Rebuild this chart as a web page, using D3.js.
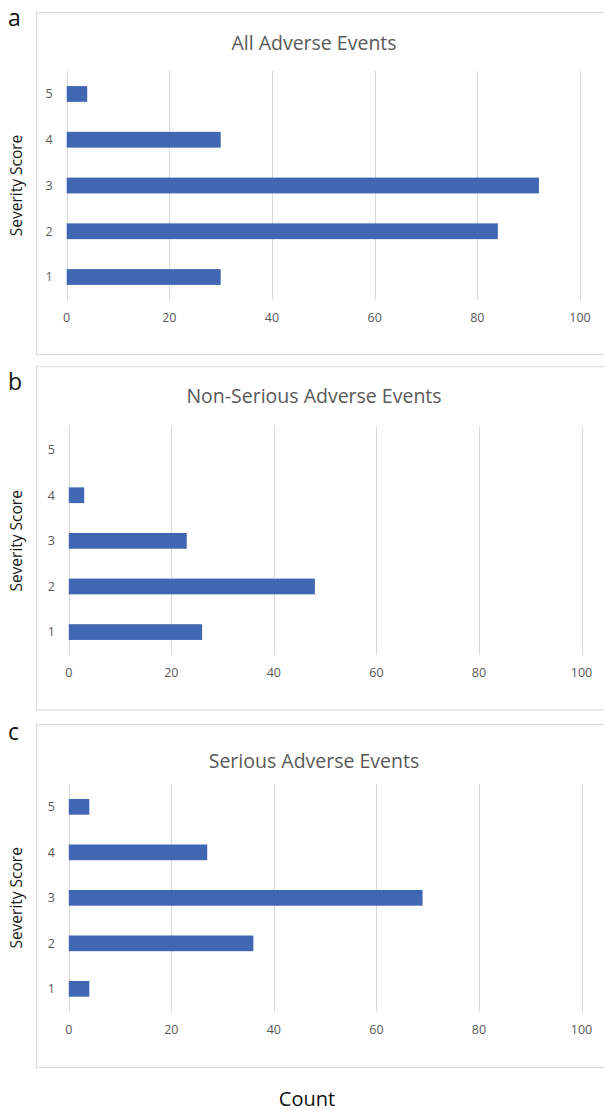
<!DOCTYPE html>
<html>
<head>
<meta charset="utf-8">
<script src="https://cdnjs.cloudflare.com/ajax/libs/d3/7.8.5/d3.min.js"></script>
<style>
    body { margin: 0; background: #fff; }
    text { font-family: "Open Sans", "Noto Sans", sans-serif; }
</style>
</head>
<body>
<div id="chart"></div>
<script>
const severity = ['1', '2', '3', '4', '5'];
const allCounts = [30, 84, 92, 30, 4];
const nonSeriousCounts = [26, 48, 23, 3, 0];
const seriousCounts = [4, 36, 69, 27, 4];
const countTicks = [0, 20, 40, 60, 80, 100];
const panelTitles = ['All Adverse Events', 'Non-Serious Adverse Events', 'Serious Adverse Events'];
const panelLetters = ['a', 'b', 'c'];

const panels = [
    { values: allCounts, frameTop: 12.5, frameBottom: 354.5, x0: 66.7, x1: 580, top: 71, bottom: 300, titleY: 49.5, tickY: 322, letterY: 26 },
    { values: nonSeriousCounts, frameTop: 366.7, frameBottom: 710, x0: 68.8, x1: 581.5, top: 426.7, bottom: 655, titleY: 403, tickY: 677, letterY: 390 },
    { values: seriousCounts, frameTop: 724.5, frameBottom: 1067.7, x0: 68.8, x1: 581.5, top: 784, bottom: 1011.7, titleY: 767.5, tickY: 1034, letterY: 740 }
];

const svg = d3.select('#chart')
    .append('svg')
    .attr('width', 604)
    .attr('height', 1110);

panels.forEach((p, i) => {
    const g = svg.append('g');

    g.append('rect')
        .attr('x', 36.5)
        .attr('y', p.frameTop)
        .attr('width', 600)
        .attr('height', p.frameBottom - p.frameTop)
        .attr('fill', 'none')
        .attr('stroke', '#d9d9d9')
        .attr('stroke-width', 1);

    g.append('text')
        .attr('x', 8)
        .attr('y', p.letterY)
        .attr('font-size', 23)
        .attr('fill', '#111')
        .text(panelLetters[i]);

    g.append('text')
        .attr('x', 314)
        .attr('y', p.titleY)
        .attr('text-anchor', 'middle')
        .attr('font-size', 19.5)
        .attr('fill', '#595959')
        .text(panelTitles[i]);

    const xScale = d3.scaleLinear()
        .domain([0, 100])
        .range([p.x0, p.x1]);

    const yScale = d3.scaleBand()
        .domain(severity.slice().reverse())
        .range([p.top, p.bottom])
        .paddingInner(0.655)
        .paddingOuter(0.33);

    // vertical grid lines
    g.selectAll('line.grid')
        .data(countTicks)
        .enter().append('line')
        .attr('class', 'grid')
        .attr('x1', d => Math.round(xScale(d)) + 0.5)
        .attr('x2', d => Math.round(xScale(d)) + 0.5)
        .attr('y1', p.top)
        .attr('y2', p.bottom)
        .attr('stroke', '#d9d9d9')
        .attr('stroke-width', 1);

    g.selectAll('text.xtick')
        .data(countTicks)
        .enter().append('text')
        .attr('class', 'xtick')
        .attr('x', d => xScale(d))
        .attr('y', p.tickY)
        .attr('text-anchor', 'middle')
        .attr('font-size', 12.5)
        .attr('fill', '#595959')
        .text(d => d);

    g.selectAll('text.ytick')
        .data(severity)
        .enter().append('text')
        .attr('class', 'ytick')
        .attr('x', p.x0 - 14)
        .attr('y', d => yScale(d) + yScale.bandwidth() / 2)
        .attr('dy', '0.35em')
        .attr('text-anchor', 'end')
        .attr('font-size', 12.5)
        .attr('fill', '#595959')
        .text(d => d);

    g.selectAll('rect.bar')
        .data(p.values.map((v, k) => ({ sev: severity[k], count: v })))
        .enter().append('rect')
        .attr('class', 'bar')
        .attr('x', xScale(0))
        .attr('y', d => yScale(d.sev))
        .attr('width', d => xScale(d.count) - xScale(0))
        .attr('height', yScale.bandwidth())
        .style('fill', '#4068b2');

    g.append('text')
        .attr('transform', `translate(22,${(p.top + p.bottom) / 2}) rotate(-90)`)
        .attr('text-anchor', 'middle')
        .attr('font-size', 15.5)
        .attr('fill', '#1a1a1a')
        .text('Severity Score');
});

svg.append('text')
    .attr('x', 307)
    .attr('y', 1105.5)
    .attr('text-anchor', 'middle')
    .attr('font-size', 20)
    .attr('fill', '#111')
    .text('Count');
</script>
</body>
</html>
